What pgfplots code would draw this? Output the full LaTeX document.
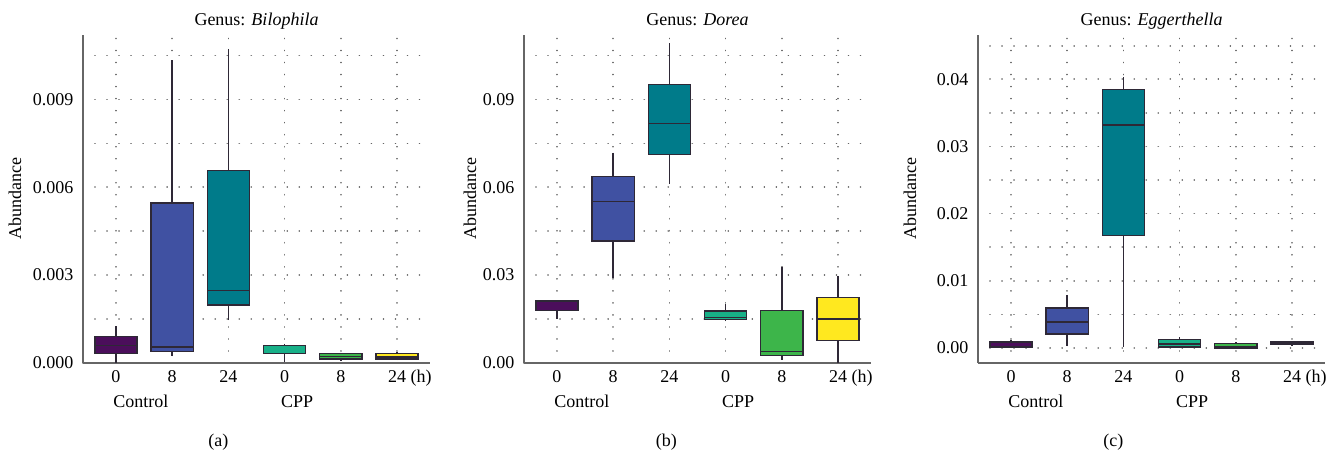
\documentclass[border=0pt]{standalone}
\usepackage{pgfplots}
\pgfplotsset{compat=1.18}
\usepgfplotslibrary{statistics}
\usepackage{fontspec}
\setmainfont{Liberation Serif}

\definecolor{cA}{RGB}{75,14,91}
\definecolor{cB}{RGB}{64,81,162}
\definecolor{cC}{RGB}{0,123,138}
\definecolor{cD}{RGB}{24,176,136}
\definecolor{cE}{RGB}{61,181,74}
\definecolor{cF}{RGB}{255,232,31}
\definecolor{edge}{RGB}{46,40,54}

% one box: position, lower whisker, q1, median, q3, upper whisker, colour
\newcommand{\bx}[7]{%
  \addplot[boxplot prepared={draw position=#1, lower whisker=#2,
      lower quartile=#3, median=#4, upper quartile=#5, upper whisker=#6},
    fill=#7] coordinates {};}

\pgfplotsset{
  panel/.style={
    scale only axis, width=208.2pt, height=196.8pt,
    anchor=south west, clip=false,
    xmin=0.413, xmax=6.587,
    xtick={1,2,3,4,5,6},
    xticklabels={0,8,24,0,8,{24\rlap{ (h)}}},
    xticklabel style={anchor=base, yshift=-12pt},
    yticklabel style={anchor=east, xshift=-2pt},
    scaled y ticks=false,
    major tick length=0pt, minor tick length=0pt,
    tick style={draw=none},
    axis x line*=bottom, axis y line*=left,
    axis line style={-, draw=black!60, line width=1.1pt},
    grid=both,
    major grid style={draw=black!60, line width=1pt, line cap=round, dash pattern=on 0.01pt off 7.2pt},
    minor grid style={draw=black!60, line width=1pt, line cap=round, dash pattern=on 0.01pt off 7.2pt},
    boxplot/draw direction=y,
    boxplot/box extend=0.75,
    boxplot/whisker extend=0,
    every axis plot/.append style={draw=edge, line width=0.85pt, solid},
  },
}

\begin{document}
\fontsize{10.8}{13}\selectfont
\begin{tikzpicture}
\path[use as bounding box] (0,0) rectangle (803.4pt,271.8pt);

% (a) Bilophila -- values in units of 1e-3
\begin{axis}[panel, at={(49.8pt,54pt)},
  ymin=0, ymax=11.2,
  ytick={0,3,6,9},
  yticklabels={0.000,0.003,0.006,0.009},
  minor ytick={1.5,4.5,7.5,10.5}]
  \bx{1}{0}{0.32}{0.59}{0.91}{1.25}{cA}
  \bx{2}{0.23}{0.40}{0.55}{5.47}{10.33}{cB}
  \bx{3}{1.46}{1.98}{2.47}{6.57}{10.73}{cC}
  \bx{4}{0.05}{0.32}{0.33}{0.60}{0.66}{cD}
  \bx{5}{0.07}{0.13}{0.22}{0.32}{0.35}{cE}
  \bx{6}{0.09}{0.13}{0.21}{0.32}{0.37}{cF}
  \node[anchor=base] at ([yshift=5.4pt]rel axis cs:0.5,1) {Genus: \textit{Bilophila}};
  \node[rotate=90, anchor=center] at ([xshift=-40.8pt]rel axis cs:0,0.5) {Abundance};
  \node[anchor=base] at ([yshift=-27pt]rel axis cs:0.167,0) {Control};
  \node[anchor=base] at ([yshift=-27pt]rel axis cs:0.617,0) {CPP};
  \node[anchor=base] at ([yshift=-50.2pt]rel axis cs:0.39,0) {(a)};
\end{axis}

% (b) Dorea -- values in units of 1e-2
\begin{axis}[panel, at={(314.4pt,54pt)},
  ymin=0, ymax=11.2,
  ytick={0,3,6,9},
  yticklabels={0.00,0.03,0.06,0.09},
  minor ytick={1.5,4.5,7.5,10.5}]
  \bx{1}{1.50}{1.79}{1.79}{2.12}{2.12}{cA}
  \bx{2}{2.89}{4.17}{5.51}{6.36}{7.18}{cB}
  \bx{3}{6.12}{7.11}{8.17}{9.51}{10.91}{cC}
  \bx{4}{1.42}{1.48}{1.56}{1.78}{2.03}{cD}
  \bx{5}{0.11}{0.25}{0.39}{1.80}{3.27}{cE}
  \bx{6}{0.00}{0.77}{1.50}{2.24}{2.96}{cF}
  \node[anchor=base] at ([yshift=5.4pt]rel axis cs:0.5,1) {Genus: \textit{Dorea}};
  \node[rotate=90, anchor=center] at ([xshift=-32.4pt]rel axis cs:0,0.5) {Abundance};
  \node[anchor=base] at ([yshift=-27pt]rel axis cs:0.167,0) {Control};
  \node[anchor=base] at ([yshift=-27pt]rel axis cs:0.617,0) {CPP};
  \node[anchor=base] at ([yshift=-50.2pt]rel axis cs:0.41,0) {(b)};
\end{axis}

% (c) Eggerthella -- values in units of 1e-2
\begin{axis}[panel, at={(586.8pt,54pt)},
  ymin=-0.223, ymax=4.66,
  ytick={0,1,2,3,4},
  yticklabels={0.00,0.01,0.02,0.03,0.04},
  minor ytick={0.5,1.5,2.5,3.5,4.5}]
  \bx{1}{0.000}{0.010}{0.025}{0.090}{0.120}{cA}
  \bx{2}{0.025}{0.208}{0.390}{0.595}{0.790}{cB}
  \bx{3}{0.015}{1.676}{3.320}{3.850}{4.030}{cC}
  \bx{4}{0.000}{0.015}{0.060}{0.124}{0.160}{cD}
  \bx{5}{0.000}{0.000}{0.025}{0.064}{0.090}{cE}
  \bx{6}{0.040}{0.050}{0.074}{0.094}{0.100}{cF}
  \node[anchor=base] at ([yshift=5.4pt]rel axis cs:0.5,1) {Genus: \textit{Eggerthella}};
  \node[rotate=90, anchor=center] at ([xshift=-40.8pt]rel axis cs:0,0.5) {Abundance};
  \node[anchor=base] at ([yshift=-27pt]rel axis cs:0.167,0) {Control};
  \node[anchor=base] at ([yshift=-27pt]rel axis cs:0.617,0) {CPP};
  \node[anchor=base] at ([yshift=-50.2pt]rel axis cs:0.39,0) {(c)};
\end{axis}
\end{tikzpicture}
\end{document}
